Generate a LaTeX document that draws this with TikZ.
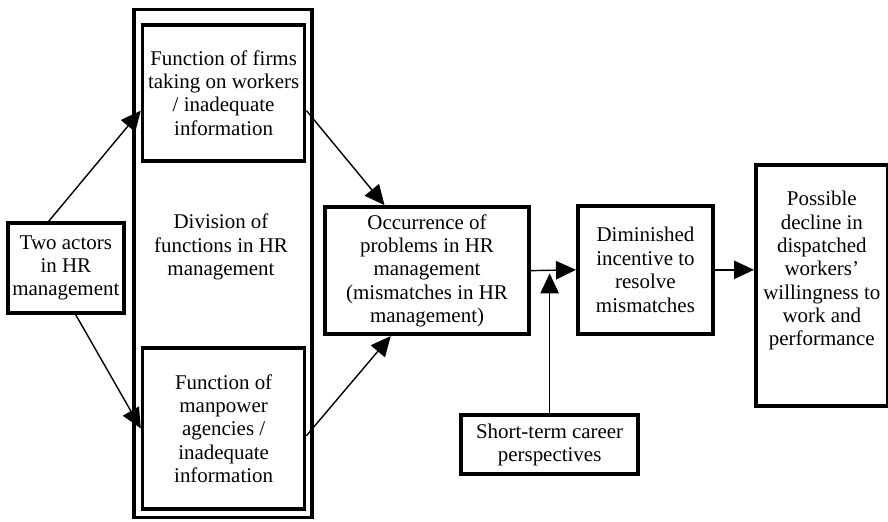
\documentclass[tikz,border=0pt]{standalone}
\usepackage{fontspec}
\setmainfont{Liberation Serif}
\usetikzlibrary{shapes,arrows.meta,positioning,calc}
\tikzstyle{a}=[anchor=north west]
\tikzstyle{txt}=[align=center,font=\fontsize{14.9}{16.6}\selectfont]
\tikzstyle{box}=[a,txt,draw,rectangle,line width=2.6pt,inner sep=1mm]
\tikzstyle{inner}=[box,minimum width=4.05cm]
\tikzstyle{arrow}=[draw,line width=1pt,-{Triangle[length=0.5cm,width=0.46cm]}]

\begin{document}
\begin{tikzpicture}
    \useasboundingbox (0,0) rectangle (22.2,-13.05);

    \node[box,minimum width=4.45cm,minimum height=12.7cm] at (3.3,-0.19) (division) {};
    \node[txt] at (5.525,-6.175) (divlabel) {Division of\\functions in HR\\management};

    \node[inner,minimum height=3.4cm] at (3.52,-0.58) (firms) {Function of firms\\taking on workers\\/ inadequate\\information};
    \node[inner,minimum height=4.03cm] at (3.52,-8.65) (agencies) {Function of\\manpower\\agencies /\\inadequate\\information};

    \node[box,minimum width=2.9cm,minimum height=2.25cm] at (0.15,-5.53) (actors) {Two actors\\in HR\\management};
    \node[box,minimum width=5.1cm,minimum height=3.18cm] at (8.08,-5.13) (problems) {Occurrence of\\problems in HR\\management\\(mismatches in HR\\management)};
    \node[box,minimum width=3.38cm,minimum height=3.2cm] at (14.4,-5.1) (incentive) {Diminished\\incentive to\\resolve\\mismatches};
    \node[box,minimum width=3.3cm,minimum height=6.02cm,text depth=0.85cm] at (18.85,-4.08) (decline) {Possible\\decline in\\dispatched\\workers'\\willingness to\\work and\\performance};
    \node[box,minimum width=4.43cm,minimum height=1.48cm] at (11.48,-10.33) (career) {Short-term career\\perspectives};

    \coordinate (join) at (career.north |- problems.east);

    \draw[arrow] (actors.110) -- (firms.192);
    \draw[arrow] (actors.-78) -- (agencies.west);
    \draw[arrow] (firms.-12) -- (problems.123);
    \draw[arrow] (agencies.-5) -- (problems.-119);
    \draw[arrow] (problems.east) -- (incentive.west);
    \draw[arrow,shorten >=2pt] (career.north) -- (join);
    \draw[arrow] (incentive.east) -- (incentive.east -| decline.west);
\end{tikzpicture}
\end{document}
